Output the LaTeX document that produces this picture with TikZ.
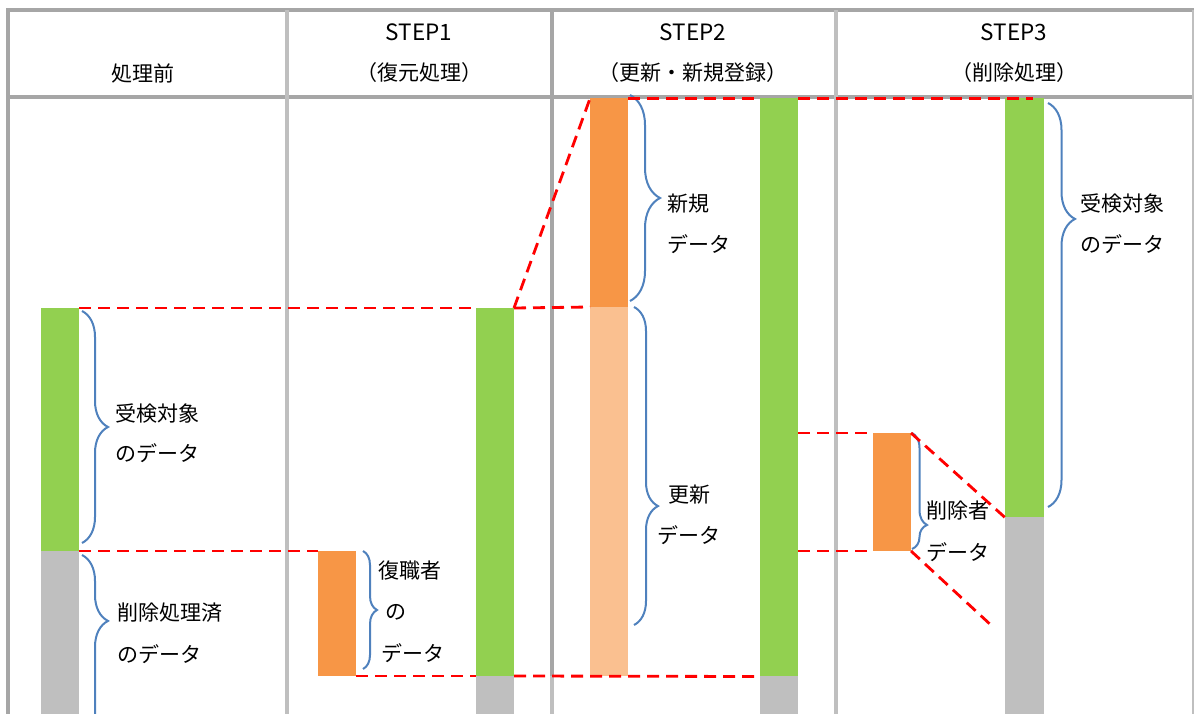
\documentclass[tikz,border=0pt]{standalone}
\usepackage{fontspec}
\setmainfont{Noto Sans CJK JP}
\usetikzlibrary{decorations.pathreplacing}
\definecolor{cgreen}{HTML}{92D050}
\definecolor{cgray}{HTML}{BFBFBF}
\definecolor{corange}{HTML}{F79646}
\definecolor{clight}{HTML}{FAC090}
\definecolor{cblue}{HTML}{4F81BD}
\definecolor{cdark}{HTML}{A6A6A6}
\definecolor{clgray}{HTML}{BFBFBF}
\begin{document}
\begin{tikzpicture}[x=1pt,y=-1pt,
  bar/.style={draw=none,inner sep=0pt,outer sep=0pt,anchor=north west,minimum width=38pt},
  dline/.style={draw=red,line width=2.8pt,dash pattern=on 12pt off 7pt},
  brc/.style={draw=cblue,line width=2pt,decorate},
  lbl/.style={font=\fontsize{21}{41}\selectfont,align=left,anchor=west,inner sep=0pt},
  hdr/.style={font=\fontsize{21}{24}\selectfont,inner sep=0pt},
  shdr/.style={font=\fontsize{22.5}{24}\selectfont,inner sep=0pt},
  tline/.style={line width=3.5pt,draw=cdark},
  cline/.style={line width=3.5pt,draw=clgray}
]
\useasboundingbox (0,0) rectangle (1194,714);
\clip (0,0) rectangle (1194,714);
% table
\draw[tline] (8,10) -- (1194,10);
\draw[tline] (8,8.3) -- (8,714);
\draw[tline] (8,97) -- (1194,97);
\draw[cline] (287,10) -- (287,714);
\draw[tline] (552,10) -- (552,676);
\draw[cline] (552,676) -- (552,714);
\draw[cline] (836,10) -- (836,714);
\draw[cline,line width=2.5pt] (1193,10) -- (1193,714);
% headers
\node[hdr] (h0) at (143,73) {処理前};
\node[shdr] (h1a) at (419,32) {STEP1};
\node[hdr] (h1b) at (419,73) {（復元処理）};
\node[shdr] (h2a) at (693,32) {STEP2};
\node[hdr] (h2b) at (693,73) {（更新・新規登録）};
\node[shdr] (h3a) at (1014,32) {STEP3};
\node[hdr] (h3b) at (1014,73) {（削除処理）};
% bars
\node[bar,fill=cgreen,minimum height=243pt] (g0) at (41,308) {};
\node[bar,fill=cgray,minimum height=170pt] (k0) at (41,551) {};
\node[bar,fill=corange,minimum height=125pt] (o1) at (318,551) {};
\node[bar,fill=cgreen,minimum height=368pt] (g1) at (476,308) {};
\node[bar,fill=cgray,minimum height=45pt] (k1) at (476,676) {};
\node[bar,fill=corange,minimum height=209pt] (o2) at (590,98.5) {};
\node[bar,fill=clight,minimum height=369pt] (l2) at (590,307) {};
\node[bar,fill=cgreen,minimum height=578pt] (g2) at (760,98.5) {};
\node[bar,fill=cgray,minimum height=45pt] (k2) at (760,676) {};
\node[bar,fill=corange,minimum height=118pt] (o3) at (873,433) {};
\node[bar,fill=cgreen,minimum width=39pt,minimum height=419pt] (g3) at (1005,98.5) {};
\node[bar,fill=cgray,minimum width=39pt,minimum height=200pt] (k3) at (1005,517) {};
% braces
\draw[brc,decoration={brace,amplitude=26pt,aspect=.5}] (82,311) -- (82,543);
\draw[brc,decoration={brace,amplitude=26pt,aspect=.293}] (82,555) -- (82,780);
\draw[brc,decoration={brace,amplitude=14pt,aspect=.5}] (363,551) -- (363,669);
\draw[brc,decoration={brace,amplitude=30pt,aspect=.5}] (630,95) -- (630,301);
\draw[brc,decoration={brace,amplitude=24pt,aspect=.626}] (634,307) -- (634,625);
\draw[brc,decoration={brace,amplitude=15pt,aspect=.793}] (912,433) -- (912,549);
\draw[brc,decoration={brace,amplitude=27pt,aspect=.287}] (1048,103) -- (1048,507);
% labels
\node[lbl,font=\fontsize{21}{40}\selectfont] (t0a) at (115,433) {受検対象\\のデータ};
\node[lbl,font=\fontsize{21}{42}\selectfont] (t0b) at (117,633) {削除処理済\\のデータ};
\node[lbl,font=\fontsize{21}{41.5}\selectfont] (t1) at (378,611.5) {復職者\\\hspace*{7pt}の\\\hspace*{3pt}データ};
\node[lbl] (t2a) at (667,223.5) {新規\\データ};
\node[lbl] (t2b) at (657,514.5) {\hspace*{11pt}更新\\データ};
\node[lbl,font=\fontsize{21}{42}\selectfont] (t3a) at (926,531) {削除者\\データ};
\node[lbl] (t3b) at (1080,223.5) {受検対象\\のデータ};
% dashed connectors
\coordinate (e3) at (992,626);
\draw[dline] (g0.north east) -- (g1.north west);
\draw[dline] (g1.north east) -- (l2.north west);
\draw[dline] (g1.north east) -- (o2.north west);
\draw[dline] (g0.south east) -- (o1.north west);
\draw[dline] (o1.south east) -- (g1.south west);
\draw[dline] (g1.south east) -- (g2.south west);
\draw[dline] (o2.north east) -- (g2.north west);
\draw[dline,shorten >=-28pt] (g2.north east) -- (g3.north west);
\draw[dline] (g2.east |- o3.north) -- (o3.north west);
\draw[dline] (g2.east |- o3.south) -- (o3.south west);
\draw[dline] (o3.north east) -- (g3.south west);
\draw[dline] (o3.south east) -- (e3);
\end{tikzpicture}
\end{document}
